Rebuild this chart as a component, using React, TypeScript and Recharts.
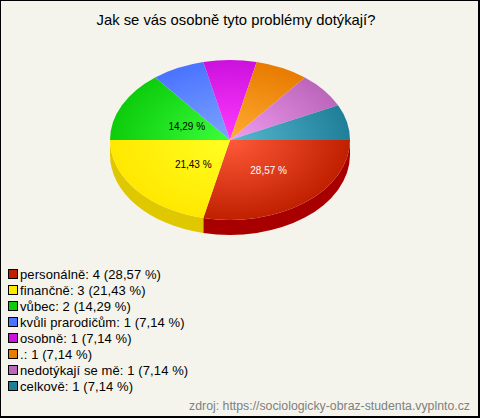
import React from "react";
import { PieChart, Pie, Legend } from "recharts";

const categories = ["personálně", "finančně", "vůbec", "kvůli prarodičům", "osobně", ".", "nedotýkají se mě", "celkově"];
const counts = [4, 3, 2, 1, 1, 1, 1, 1];
const percentLabels = ["28,57 %", "21,43 %", "14,29 %", "7,14 %", "7,14 %", "7,14 %", "7,14 %", "7,14 %"];
const edgeColors = ["#c02000", "#ffe800", "#0ccc0c", "#4a73ff", "#cc11dd", "#e87b00", "#bb66bb", "#1f7f99"];
const centerColors = ["#ff5a3a", "#ffff22", "#3cff3c", "#7ea4ff", "#ff3cff", "#ffac33", "#f09cf0", "#58b8d0"];
const sideColors = ["#a80000", "#e0c800", "#0aa00a", "#3a5acc", "#a00eb0", "#b86000", "#955095", "#186478"];

const title = "Jak se vás osobně tyto problémy dotýkají?";
const source = "zdroj: https://sociologicky-obraz-studenta.vyplnto.cz";

const rows = categories.map((name, i) => ({
  name,
  value: counts[i],
  percent: percentLabels[i],
  fill: edgeColors[i],
  center: centerColors[i],
  side: sideColors[i],
  idx: i,
}));

const SQUASH = 2 / 3;
const DEPTH = 15;
const FONT = "'Liberation Sans', Arial, sans-serif";
const RAD = Math.PI / 180;

function pt(cx: number, cy: number, r: number, deg: number) {
  return [cx + r * Math.cos(deg * RAD), cy + r * SQUASH * Math.sin(deg * RAD)];
}

function TopSlice(p: any) {
  const { cx, cy, outerRadius: r, startAngle, endAngle, payload } = p;
  const a0 = -startAngle;
  const a1 = -endAngle;
  const [x0, y0] = pt(cx, cy, r, a0);
  const [x1, y1] = pt(cx, cy, r, a1);
  const large = a1 - a0 > 180 ? 1 : 0;
  const row = payload ?? p;
  const id = `grad-${row.idx}`;
  return (
    <g>
      <defs>
        <radialGradient
          id={id}
          gradientUnits="userSpaceOnUse"
          cx={cx}
          cy={cy}
          r={r}
          gradientTransform={`translate(${cx} ${cy}) scale(1 ${SQUASH}) translate(${-cx} ${-cy})`}
        >
          <stop offset="0%" stopColor={row.center} />
          <stop offset="100%" stopColor={row.fill} />
        </radialGradient>
      </defs>
      <path
        d={`M${cx} ${cy}L${x0} ${y0}A${r} ${r * SQUASH} 0 ${large} 1 ${x1} ${y1}Z`}
        fill={`url(#${id})`}
      />
    </g>
  );
}

function SideSlice(p: any) {
  const { cx, cy, outerRadius: r, startAngle, endAngle, payload } = p;
  const a0 = Math.max(-startAngle, 0);
  const a1 = Math.min(-endAngle, 180);
  if (a1 <= a0) return <g />;
  const [x0, y0] = pt(cx, cy, r, a0);
  const [x1, y1] = pt(cx, cy, r, a1);
  const ry = r * SQUASH;
  const row = payload ?? p;
  return (
    <path
      d={`M${x0} ${y0}A${r} ${ry} 0 0 1 ${x1} ${y1}L${x1} ${y1 + DEPTH}A${r} ${ry} 0 0 0 ${x0} ${y0 + DEPTH}Z`}
      fill={row.side}
    />
  );
}

const labelRadius = [62, 47, 48];
const labelShift = [-2, 5, 0];

function sliceLabel(p: any) {
  const { cx, cy, midAngle, index, payload } = p;
  if (index >= labelRadius.length) return <g key={index} />;
  const [x, y] = pt(cx, cy, labelRadius[index], -midAngle);
  const row = payload ?? p;
  return (
    <text
      key={index}
      x={x}
      y={y + labelShift[index]}
      textAnchor="middle"
      dominantBaseline="central"
      fontFamily={FONT}
      fontSize={10}
      fill={index === 0 ? "#ffffff" : "#000000"}
    >
      {row.percent}
    </text>
  );
}

function LegendList() {
  return (
    <div style={{ fontFamily: FONT, fontSize: 13, color: "#000" }}>
      {rows.map((row) => (
        <div key={row.name} style={{ display: "flex", alignItems: "center", height: 16 }}>
          <span
            style={{
              display: "inline-block",
              boxSizing: "border-box",
              width: 10,
              height: 10,
              background: row.fill,
              border: "1px solid #000",
              marginRight: 2,
            }}
          />
          <span style={{ whiteSpace: "pre", letterSpacing: 0.1 }}>
            {`${row.name}: ${row.value} (${row.percent})`}
          </span>
        </div>
      ))}
    </div>
  );
}

export default function App() {
  return (
    <div style={{ position: "absolute", left: 0, top: 0, width: 480, height: 418 }}>
      <PieChart width={480} height={418} margin={{ top: 0, right: 0, bottom: 0, left: 0 }}>
        <rect x={0} y={0} width={480} height={418} fill="#000" />
        <rect x={1} y={1} width={477} height={415} fill="#f4f4ec" />
        <text x={236} y={25} textAnchor="middle" fontFamily={FONT} fontSize={14.8} fill="#000">{title}</text>
        <Pie
          data={rows}
          dataKey="value"
          nameKey="name"
          cx={230}
          cy={140}
          outerRadius={120}
          startAngle={0}
          endAngle={-360}
          stroke="none"
          legendType="none"
          isAnimationActive={false}
          shape={SideSlice}
        />
        <Pie
          data={rows}
          dataKey="value"
          nameKey="name"
          cx={230}
          cy={140}
          outerRadius={120}
          startAngle={0}
          endAngle={-360}
          stroke="none"
          isAnimationActive={false}
          shape={TopSlice}
          label={sliceLabel}
          labelLine={false}
        />
        <Legend
          layout="vertical"
          align="center"
          verticalAlign="middle"
          wrapperStyle={{ left: 8, top: 266, width: 300 }}
          content={<LegendList />}
        />
        <text x={470} y={410} textAnchor="end" fontFamily={FONT} fontSize={12.3} fill="#808080">{source}</text>
      </PieChart>
    </div>
  );
}
